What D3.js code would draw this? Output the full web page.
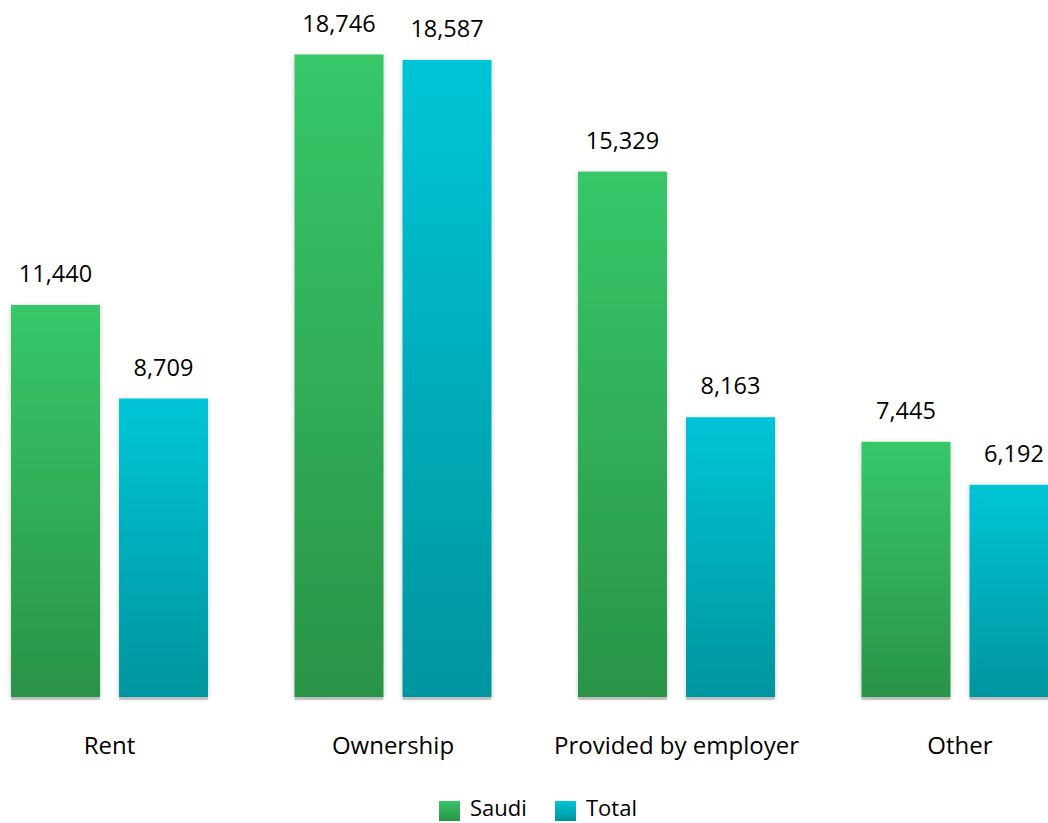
<!DOCTYPE html>
<html>
<head>
<meta charset="utf-8">
<script src="https://cdn.jsdelivr.net/npm/d3@7"></script>
<style>
  body { margin: 0; background: #fff; }
  text { font-family: "Open Sans", "Noto Sans", sans-serif; fill: #000; }
</style>
</head>
<body>
<svg id="chart" width="1048" height="823"></svg>
<script>
var categories = ["Rent", "Ownership", "Provided by employer", "Other"];
var seriesNames = ["Saudi", "Total"];
var saudi = [11440, 18746, 15329, 7445];
var total = [8709, 18587, 8163, 6192];

var svg = d3.select('#chart');

var baseY = 697;

var x0 = d3.scaleBand()
  .domain(categories)
  .range([11, 1058.5])
  .paddingInner(0.305)
  .paddingOuter(0);

var x1 = d3.scaleBand()
  .domain(seriesNames)
  .range([0, x0.bandwidth()])
  .paddingInner(0.176);

var y = d3.scaleLinear()
  .domain([0, 18746])
  .range([baseY, 54.5]);

var defs = svg.append('defs');

function addGrad(id, top, bottom) {
  var g = defs.append('linearGradient')
    .attr('id', id)
    .attr('x1', 0).attr('y1', 0)
    .attr('x2', 0).attr('y2', 1);
  g.append('stop').attr('offset', '0%').attr('stop-color', top);
  g.append('stop').attr('offset', '100%').attr('stop-color', bottom);
}
addGrad('gSaudi', '#37c769', '#2a9347');
addGrad('gTotal', '#00c5d7', '#00959e');

var shadow = defs.append('filter')
  .attr('id', 'shadow')
  .attr('x', '-20%').attr('y', '-10%')
  .attr('width', '140%').attr('height', '120%');
shadow.append('feDropShadow')
  .attr('dx', 0).attr('dy', 1)
  .attr('stdDeviation', 2.5)
  .attr('flood-color', '#000')
  .attr('flood-opacity', 0.22);

var fills = { Saudi: 'url(#gSaudi)', Total: 'url(#gTotal)' };
var values = { Saudi: saudi, Total: total };

var rows = [];
categories.forEach(function(c, i) {
  seriesNames.forEach(function(s) {
    rows.push({ cat: c, series: s, value: values[s][i] });
  });
});

// light line under each bar
svg.append('g').selectAll('rect')
  .data(rows)
  .enter().append('rect')
  .attr('x', function(d) { return x0(d.cat) + x1(d.series); })
  .attr('y', baseY)
  .attr('width', x1.bandwidth())
  .attr('height', 3)
  .style('fill', '#d4d4d4');

svg.append('g').selectAll('rect')
  .data(rows)
  .enter().append('rect')
  .attr('x', function(d) { return x0(d.cat) + x1(d.series); })
  .attr('y', function(d) { return y(d.value); })
  .attr('width', x1.bandwidth())
  .attr('height', function(d) { return baseY - y(d.value); })
  .style('fill', function(d) { return fills[d.series]; })
  .attr('filter', 'url(#shadow)');

svg.append('g').selectAll('text')
  .data(rows)
  .enter().append('text')
  .attr('x', function(d) { return x0(d.cat) + x1(d.series) + x1.bandwidth() / 2; })
  .attr('y', function(d) { return y(d.value) - 23; })
  .attr('text-anchor', 'middle')
  .style('font-size', '23.5px')
  .text(function(d) { return d3.format(',')(d.value); });

svg.append('g').selectAll('text')
  .data(categories)
  .enter().append('text')
  .attr('x', function(d) { return x0(d) + x0.bandwidth() / 2; })
  .attr('y', 754)
  .attr('text-anchor', 'middle')
  .style('font-size', '24px')
  .text(function(d) { return d; });

// legend
var legendX = [439, 555];
var legend = svg.append('g').selectAll('g')
  .data(seriesNames)
  .enter().append('g')
  .attr('transform', function(d, i) { return 'translate(' + legendX[i] + ',801)'; });

legend.append('rect')
  .attr('width', 21)
  .attr('height', 20)
  .style('fill', function(d) { return fills[d]; });

legend.append('text')
  .attr('x', 31)
  .attr('y', 15)
  .style('font-size', '22px')
  .text(function(d) { return d; });
</script>
</body>
</html>
